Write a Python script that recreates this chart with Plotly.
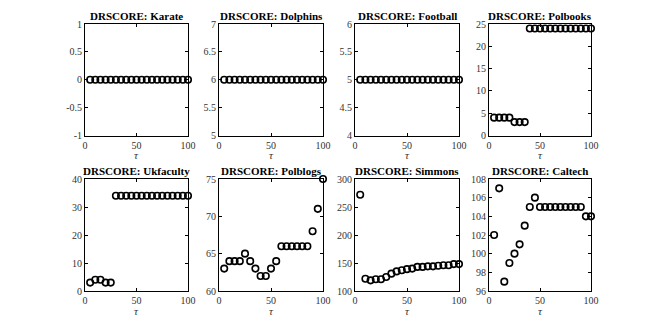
import plotly.graph_objects as go
from plotly.subplots import make_subplots

tau = [5, 10, 15, 20, 25, 30, 35, 40, 45, 50, 55, 60, 65, 70, 75, 80, 85, 90, 95, 100]

karate = [0] * 20
dolphins = [6] * 20
football = [5] * 20
polbooks = [4, 4, 4, 4, 3, 3, 3] + [24] * 13
ukfaculty = [3, 4, 4, 3, 3] + [34] * 15
polblogs = [63, 64, 64, 64, 65, 64, 63, 62, 62, 63, 64, 66, 66, 66, 66, 66, 66, 68, 71, 75]
simmons = [272, 122, 119, 121, 121, 125, 131, 135, 137, 139, 140, 143, 143, 144, 144, 145, 146, 146, 148, 148]
caltech = [102, 107, 97, 99, 100, 101, 103, 105, 106, 105, 105, 105, 105, 105, 105, 105, 105, 105, 104, 104]

names = ["Karate", "Dolphins", "Football", "Polbooks", "Ukfaculty", "Polblogs", "Simmons", "Caltech"]
series = [karate, dolphins, football, polbooks, ukfaculty, polblogs, simmons, caltech]
yranges = [[-1, 1], [5, 7], [4, 6], [0, 25], [0, 40], [60, 75], [100, 300], [96, 108]]
yticks = [
    [-1, -0.5, 0, 0.5, 1],
    [5, 5.5, 6, 6.5, 7],
    [4, 4.5, 5, 5.5, 6],
    [0, 5, 10, 15, 20, 25],
    [0, 10, 20, 30, 40],
    [60, 65, 70, 75],
    [100, 150, 200, 250, 300],
    [96, 98, 100, 102, 104, 106, 108],
]
yticktext = [
    ["-1", "-0.5", "0", "0.5", "1"],
    None, None, None, None, None, None, None,
]

W, H = 654, 327
# pixel boxes of the axes (left, right), (top, bottom)
cols = [(85, 188), (219, 323), (355, 459), (489, 591)]
rows = [(24, 135.5), (179, 291)]

fig = make_subplots(rows=2, cols=4)
font = "Liberation Serif, Times New Roman, Times, serif"

for i, (name, ys) in enumerate(zip(names, series)):
    r, c = i // 4, i % 4
    fig.add_trace(go.Scatter(
        x=tau, y=ys, mode="markers",
        marker=dict(symbol="circle-open", size=6.5, color="black", line=dict(width=1.6, color="black")),
        showlegend=False, cliponaxis=False,
    ), row=r + 1, col=c + 1)
    x0, x1 = cols[c]
    y0, y1 = rows[r]
    xd = [x0 / W, x1 / W]
    yd = [1 - y1 / H, 1 - y0 / H]
    ax = dict(showline=True, linecolor="black", linewidth=1, mirror="ticks",
              ticks="inside", ticklen=3, tickcolor="black", showgrid=False, zeroline=False,
              automargin=False, tickfont=dict(family=font, size=10, color="#333"))
    fig.update_xaxes(domain=xd, range=[0, 100], tickvals=[0, 50, 100],
                     row=r + 1, col=c + 1, **ax)
    fig.update_yaxes(domain=yd, range=yranges[i], tickvals=yticks[i],
                     ticktext=yticktext[i],
                     row=r + 1, col=c + 1, **ax)
    xm = (xd[0] + xd[1]) / 2
    fig.add_annotation(x=xm, y=yd[1], xref="paper", yref="paper",
                       xanchor="center", yanchor="bottom", yshift=0, showarrow=False,
                       text="<b>DRSCORE: " + name + "</b>",
                       font=dict(family=font, size=11, color="black"))
    fig.add_annotation(x=xm, y=1 - (y1 + 19.5) / H, xref="paper", yref="paper",
                       xanchor="center", yanchor="middle", showarrow=False,
                       text="<i>τ</i>", font=dict(family=font, size=11, color="#333"))

fig.update_layout(width=W, height=H, margin=dict(l=0, r=0, t=0, b=0, autoexpand=False),
                  plot_bgcolor="white", paper_bgcolor="white")
fig.write_html("out.html", config={"displayModeBar": False},
               post_script="document.body.style.margin='0';")
